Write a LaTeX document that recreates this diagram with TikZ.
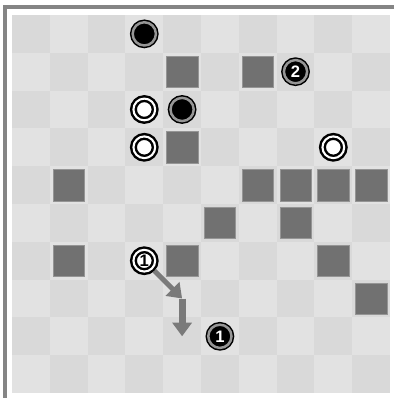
\documentclass[tikz,border=0pt]{standalone}
\usepackage{fontspec}
\setsansfont{Liberation Sans}
\usetikzlibrary{arrows.meta, math}
\definecolor{celldark}{RGB}{217,217,217}
\definecolor{celllight}{RGB}{226,226,226}
\definecolor{wallgray}{RGB}{113,113,113}
\definecolor{framegray}{RGB}{133,133,133}
\definecolor{ringgray}{RGB}{150,150,150}
\definecolor{movegray}{RGB}{122,122,122}

\tikzset{
  stone/.style={circle, inner sep=0pt, outer sep=0.09cm, draw=black,
    font=\sffamily\bfseries\fontsize{12.5}{12.5}\selectfont},
  blackstone/.style={stone, minimum size=0.614cm, line width=0.04cm,
    double distance=0.066cm, fill=black, double=ringgray, text=white},
  whitestone/.style={stone, minimum size=0.575cm, line width=0.065cm,
    double distance=0.055cm, fill=white, double=white, text=black},
  wall/.style={fill=wallgray, draw=wallgray!75!white, line width=0.4pt},
  movearrow/.style={draw=movegray, -{Triangle[width=0.5cm,length=0.36cm]}},
}

\begin{document}
\begin{tikzpicture}
\tikzmath{
\inset=0.085;
\fw=0.106;
}
\useasboundingbox[fill=white] (-0.317,0.396) rectangle (10.106,-10.132);
%frame
\draw[framegray, line width=\fw cm] (10.106,0.211) -- (-0.185,0.211) -- (-0.185,-10.132);
%board
\fill[celllight] (0,0) rectangle (10,-10);
\foreach \c in {0,...,9}
  \foreach \r in {0,...,9}{
    \ifodd\numexpr\c+\r\relax\else
      \fill[celldark] (\c,-\r) rectangle ++(1,-1);
    \fi
  }
%walls
\foreach \c/\r in {4/1, 6/1, 4/3, 1/4, 6/4, 7/4, 8/4, 9/4, 5/5, 7/5, 1/6, 4/6, 8/6, 9/7}
  \filldraw[wall] (\c+\inset,-\r-\inset) rectangle (\c+1-\inset,-\r-1+\inset);

%stones
\node[blackstone] (b1) at (3.5,-0.5) {};
\node[blackstone] (b2) at (4.5,-2.5) {};
\node[whitestone] (w1) at (3.5,-2.5) {};
\node[whitestone] (w2) at (3.5,-3.5) {};
\node[whitestone] (w3) at (8.5,-3.5) {};
\node[blackstone] (bn2) at (7.5,-1.5) {2};
\node[whitestone] (wn1) at (3.5,-6.5) {1};
\node[blackstone] (bn1) at (5.5,-8.5) {1};

%move
\coordinate (turn) at (4.5,-7.5);
\coordinate (stop) at (4.5,-8.5);
\draw[movearrow, line width=0.13cm] (wn1) -- (turn);
\draw[movearrow, line width=0.19cm] (turn) -- (stop);
\end{tikzpicture}
\end{document}
